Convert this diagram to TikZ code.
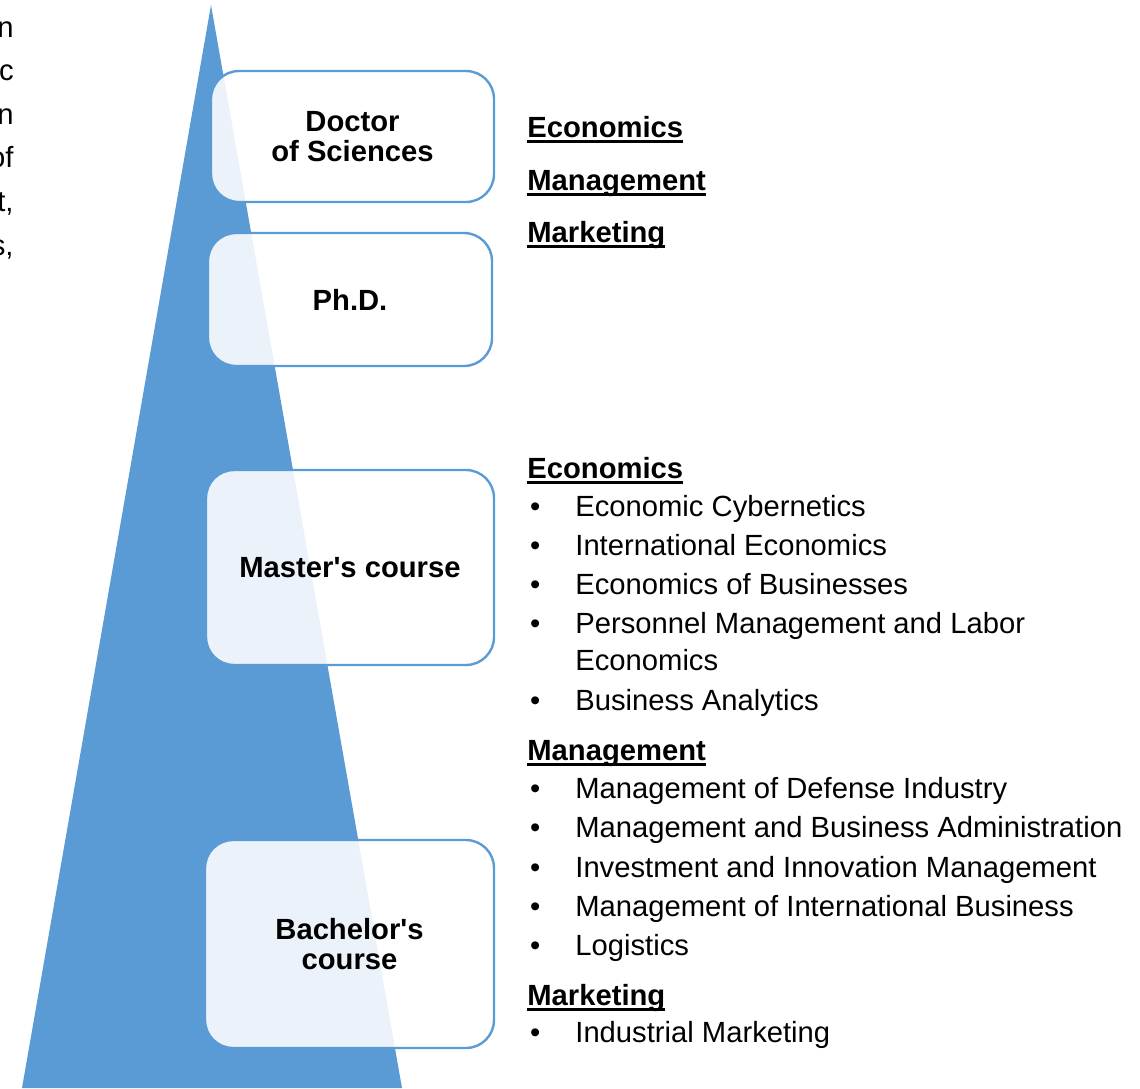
\documentclass[tikz,border=0pt]{standalone}
\usepackage{fontspec}
\setmainfont{Liberation Sans}
\definecolor{tribl}{HTML}{5B9BD5}
\newcommand{\headline}[1]{\setbox0\hbox{\bfseries #1}\rlap{\copy0}\rule[-3.2pt]{\wd0}{1.5pt}}
\newcommand{\itembullet}{\llap{\textbullet\hspace{17.5pt}}}
\tikzset{
  level/.style={draw=tribl, line width=1.2pt, fill=white, fill opacity=0.88, text opacity=1,
    rounded corners=14pt, align=center, inner sep=0pt,
    font=\bfseries\fontsize{14.6pt}{15pt}\selectfont},
  txt/.style={anchor=base west, inner sep=0pt, font=\fontsize{14.6pt}{15pt}\selectfont},
  frag/.style={anchor=base east, inner sep=0pt, font=\fontsize{14.6pt}{15pt}\selectfont}
}
\begin{document}
\begin{tikzpicture}[x=0.5pt, y=-0.5pt]
\useasboundingbox (0,0) rectangle (1140,1088);
% pyramid
\fill[tribl] (211,5) -- (402,1088) -- (22,1088) -- cycle;
% levels
\node[level, minimum width=141.5pt, minimum height=65.5pt] (doc) at (352.5,136.5) {Doctor\\of Sciences};
\node[level, minimum width=142pt, minimum height=66.5pt] (phd) at (350,299.5) {Ph.D.};
\node[level, minimum width=144pt, minimum height=97.5pt] (mas) at (350,567.5) {Master\textquotesingle s course};
\node[level, minimum width=144.5pt, minimum height=104pt] (bac) at (349.5,944) {Bachelor\textquotesingle s\\course};
% left text, cut off
\node[frag] (fa) at (14,37) {n};
\node[frag] (fb) at (14,80.6) {c};
\node[frag] (fc) at (14,124.2) {n};
\node[frag] (fd) at (14,167.8) {of};
\node[frag] (fe) at (14,211.4) {t,};
\node[frag] (ff) at (14,255) {s,};
% doctoral fields
\node[txt] (ecoTop) at (527,137) {\headline{Economics}};
\node[txt] (manTop) at (527,190) {\headline{Management}};
\node[txt] (marTop) at (527,242) {\headline{Marketing}};
% master and bachelor programmes
\node[txt] (ecoHd) at (527,478) {\headline{Economics}};
\node[txt] (eco1) at (575,516) {\itembullet Economic Cybernetics};
\node[txt] (eco2) at (575,555) {\itembullet International Economics};
\node[txt] (eco3) at (575,594) {\itembullet Economics of Businesses};
\node[txt] (eco4) at (575,633) {\itembullet Personnel Management and Labor};
\node[txt] (eco4b) at (575,670) {Economics};
\node[txt] (eco5) at (575,710) {\itembullet Business Analytics};
\node[txt] (manHd) at (527,760) {\headline{Management}};
\node[txt] (man1) at (575,798) {\itembullet Management of Defense Industry};
\node[txt] (man2) at (575,837) {\itembullet Management and Business Administration};
\node[txt] (man3) at (575,877) {\itembullet Investment and Innovation Management};
\node[txt] (man4) at (575,916) {\itembullet Management of International Business};
\node[txt] (man5) at (575,955) {\itembullet Logistics};
\node[txt] (marHd) at (527,1005) {\headline{Marketing}};
\node[txt] (mar1) at (575,1042) {\itembullet Industrial Marketing};
\end{tikzpicture}
\end{document}
